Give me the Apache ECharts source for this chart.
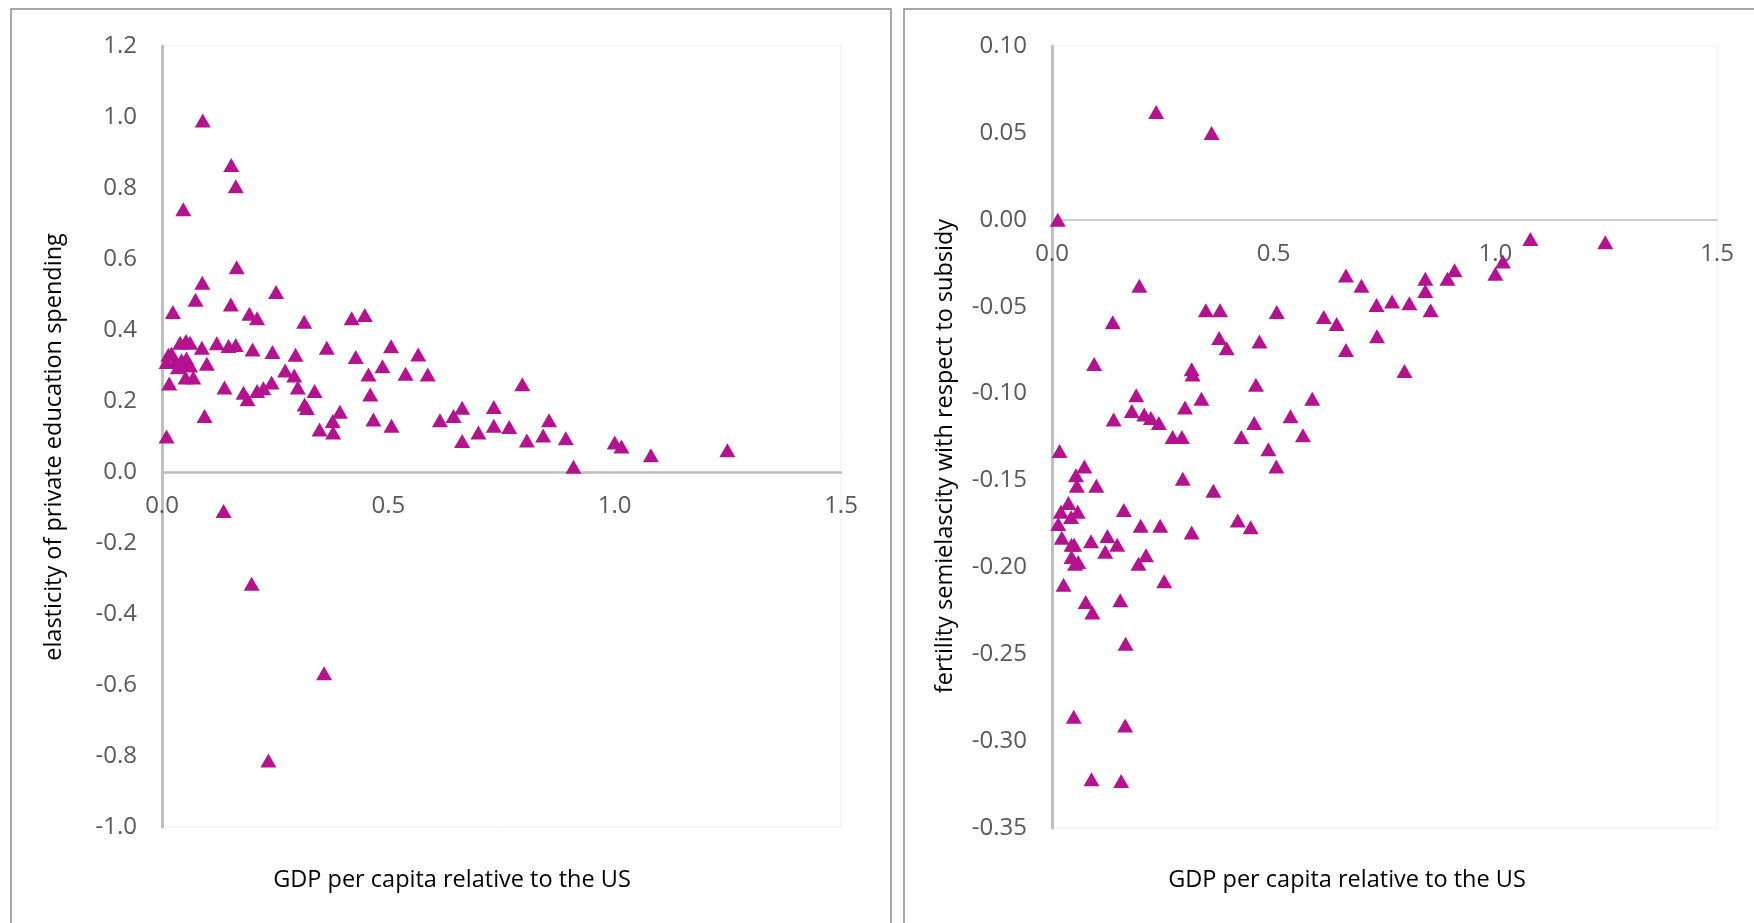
<!DOCTYPE html>
<html>
<head>
<meta charset="utf-8">
<title>GDP per capita scatter</title>
<script src="https://cdn.jsdelivr.net/npm/echarts@6/dist/echarts.min.js"></script>
<style>
    html, body { margin: 0; padding: 0; background: #fff; }
    #chart { width: 1754px; height: 923px; }
</style>
</head>
<body>
<div id="chart"></div>
<script>
// [GDP per capita relative to the US, elasticity of private education spending]
var educationPoints = [
    [0.09, 0.99], [0.153, 0.865], [0.163, 0.805], [0.047, 0.74], [0.165, 0.577],
    [0.089, 0.533], [0.074, 0.485], [0.152, 0.472], [0.252, 0.507], [0.024, 0.451],
    [0.193, 0.446], [0.21, 0.433], [0.314, 0.423], [0.419, 0.433], [0.448, 0.442],
    [0.04, 0.364], [0.053, 0.369], [0.062, 0.364], [0.088, 0.35], [0.121, 0.363],
    [0.147, 0.355], [0.163, 0.358], [0.20, 0.345], [0.244, 0.338], [0.295, 0.33],
    [0.364, 0.35], [0.428, 0.324], [0.506, 0.354], [0.566, 0.331], [0.487, 0.298],
    [0.456, 0.275], [0.538, 0.277], [0.587, 0.275], [0.46, 0.218], [0.272, 0.286],
    [0.292, 0.272], [0.30, 0.238], [0.337, 0.228], [0.315, 0.19], [0.32, 0.18],
    [0.393, 0.17], [0.377, 0.144], [0.378, 0.111], [0.348, 0.12], [0.467, 0.148],
    [0.507, 0.13], [0.614, 0.146], [0.242, 0.252], [0.224, 0.236], [0.21, 0.228],
    [0.189, 0.205], [0.18, 0.223], [0.138, 0.238], [0.094, 0.158], [0.01, 0.10],
    [0.016, 0.249], [0.099, 0.305], [0.069, 0.266], [0.052, 0.266], [0.014, 0.33],
    [0.021, 0.334], [0.029, 0.31], [0.043, 0.315], [0.054, 0.32], [0.062, 0.30],
    [0.047, 0.306], [0.035, 0.295], [0.01, 0.31], [0.644, 0.158], [0.663, 0.181],
    [0.663, 0.087], [0.699, 0.111], [0.733, 0.183], [0.733, 0.13], [0.767, 0.127],
    [0.796, 0.247], [0.806, 0.089], [0.842, 0.103], [0.855, 0.146], [0.892, 0.095],
    [0.909, 0.015], [1.0, 0.083], [1.015, 0.072], [1.08, 0.047], [1.249, 0.061],
    [0.136, -0.11], [0.198, -0.315], [0.358, -0.567], [0.235, -0.813]
];

// [GDP per capita relative to the US, fertility semielasticity]
var fertilityPoints = [
    [0.235, 0.062], [0.36, 0.05], [0.013, 0.0], [1.079, -0.011], [1.248, -0.013],
    [1.017, -0.024], [1.0, -0.031], [0.908, -0.029], [0.892, -0.034], [0.842, -0.034],
    [0.842, -0.041], [0.854, -0.052], [0.806, -0.048], [0.767, -0.047], [0.732, -0.049],
    [0.698, -0.038], [0.663, -0.032], [0.733, -0.067], [0.663, -0.075], [0.795, -0.087],
    [0.613, -0.056], [0.642, -0.06], [0.587, -0.103], [0.507, -0.053], [0.379, -0.052],
    [0.347, -0.052], [0.377, -0.068], [0.394, -0.074], [0.468, -0.07], [0.46, -0.095],
    [0.315, -0.086], [0.317, -0.089], [0.337, -0.103], [0.30, -0.108], [0.538, -0.113],
    [0.566, -0.124], [0.456, -0.117], [0.427, -0.125], [0.488, -0.132], [0.506, -0.142],
    [0.364, -0.156], [0.419, -0.173], [0.448, -0.177], [0.315, -0.18], [0.295, -0.149],
    [0.272, -0.125], [0.293, -0.125], [0.241, -0.117], [0.223, -0.114], [0.208, -0.112],
    [0.18, -0.11], [0.19, -0.101], [0.197, -0.038], [0.137, -0.059], [0.095, -0.083],
    [0.139, -0.115], [0.017, -0.133], [0.073, -0.142], [0.054, -0.147], [0.056, -0.153],
    [0.10, -0.153], [0.037, -0.163], [0.02, -0.168], [0.058, -0.168], [0.043, -0.171],
    [0.014, -0.175], [0.162, -0.167], [0.20, -0.176], [0.244, -0.176], [0.022, -0.183],
    [0.044, -0.187], [0.05, -0.187], [0.088, -0.185], [0.125, -0.182], [0.147, -0.187],
    [0.12, -0.191], [0.044, -0.194], [0.059, -0.197], [0.052, -0.198], [0.212, -0.193],
    [0.195, -0.198], [0.253, -0.208], [0.026, -0.21], [0.076, -0.22], [0.091, -0.226],
    [0.154, -0.219], [0.166, -0.244], [0.049, -0.286], [0.165, -0.291], [0.089, -0.322],
    [0.156, -0.323]
];

// axis ranges / tick steps
var xTicks = [0, 0.5, 1.0, 1.5];
var educationYTicks = { min: -1.0, max: 1.2, step: 0.2 };
var fertilityYTicks = { min: -0.35, max: 0.10, step: 0.05 };

var xTitle = 'GDP per capita relative to the US';
var educationYTitle = 'elasticity of private education spending';
var fertilityYTitle = 'fertility semielascity with respect to subsidy';

var FONT = '"Open Sans", "Noto Sans", sans-serif';
var MARKER = '#B5128F';
var AXIS_GREY = '#BFBFBF';
var LABEL_GREY = '#595959';

// plot areas, in px
var grids = [
    { left: 162, top: 46, right: 913, bottom: 96 },
    { left: 1052, top: 46, right: 37, bottom: 95 }
];

// the x axis (line + labels) sits where y = 0, like Excel does it
function zeroOffset(g, ticks) {
    var h = 923 - g.top - g.bottom;
    return -(0 - ticks.min) / (ticks.max - ticks.min) * h;
}

function xAxisFor(gridIndex, lineWidth, ticks) {
    return {
        type: 'value',
        gridIndex: gridIndex,
        position: 'bottom',
        offset: zeroOffset(grids[gridIndex], ticks),
        min: xTicks[0],
        max: xTicks[xTicks.length - 1],
        interval: xTicks[1] - xTicks[0],
        axisLine: { show: true, onZero: false, lineStyle: { color: AXIS_GREY, width: lineWidth } },
        axisTick: { show: false },
        splitLine: { show: false },
        axisLabel: {
            margin: 22,
            color: LABEL_GREY,
            fontSize: 24,
            fontFamily: FONT,
            showMinLabel: true,
            showMaxLabel: true,
            formatter: function (v) { return v.toFixed(1); }
        }
    };
}

function yAxisFor(gridIndex, ticks, digits) {
    return {
        type: 'value',
        gridIndex: gridIndex,
        min: ticks.min,
        max: ticks.max,
        interval: ticks.step,
        axisLine: { show: true, onZero: false, lineStyle: { color: AXIS_GREY, width: 3 } },
        axisTick: { show: false },
        splitLine: { show: false },
        axisLabel: {
            margin: 25,
            color: LABEL_GREY,
            fontSize: 24,
            fontFamily: FONT,
            formatter: function (v) { return v.toFixed(digits); }
        }
    };
}

function titleText(x, y, text, rotated) {
    return {
        type: 'text',
        x: x,
        y: y,
        rotation: rotated ? Math.PI / 2 : 0,
        style: {
            text: text,
            fill: '#000',
            fontSize: 23.5,
            fontFamily: FONT,
            align: 'center',
            verticalAlign: 'middle'
        }
    };
}

var myChart = echarts.init(document.getElementById('chart'), null, { renderer: 'canvas' });

var option = {
    animation: false,
    backgroundColor: '#fff',
    grid: grids.map(function (g) {
        return { left: g.left, top: g.top, right: g.right, bottom: g.bottom,
                 show: true, borderColor: '#EEEEEE', borderWidth: 1 };
    }),
    xAxis: [xAxisFor(0, 2.5, educationYTicks), xAxisFor(1, 1.5, fertilityYTicks)],
    yAxis: [yAxisFor(0, educationYTicks, 1), yAxisFor(1, fertilityYTicks, 2)],
    series: [
        {
            type: 'scatter',
            xAxisIndex: 0,
            yAxisIndex: 0,
            symbol: 'triangle',
            symbolSize: [16, 14],
            itemStyle: { color: MARKER, opacity: 1 },
            data: educationPoints
        },
        {
            type: 'scatter',
            xAxisIndex: 1,
            yAxisIndex: 1,
            symbol: 'triangle',
            symbolSize: [16, 14],
            itemStyle: { color: MARKER, opacity: 1 },
            data: fertilityPoints
        }
    ],
    graphic: [
        // chart frames (cut off at the bottom / right like the original)
        { type: 'rect', shape: { x: 11, y: 9, width: 880, height: 1000 },
          style: { fill: 'none', stroke: '#8A8A8A', lineWidth: 1.5 }, silent: true, z: -1 },
        { type: 'rect', shape: { x: 904, y: 9, width: 1000, height: 1000 },
          style: { fill: 'none', stroke: '#8A8A8A', lineWidth: 1.5 }, silent: true, z: -1 },
        titleText(452, 880, xTitle, false),
        titleText(1347, 880, xTitle, false),
        titleText(54, 447, educationYTitle, true),
        titleText(945, 456, fertilityYTitle, true)
    ]
};

myChart.setOption(option);
</script>
</body>
</html>
